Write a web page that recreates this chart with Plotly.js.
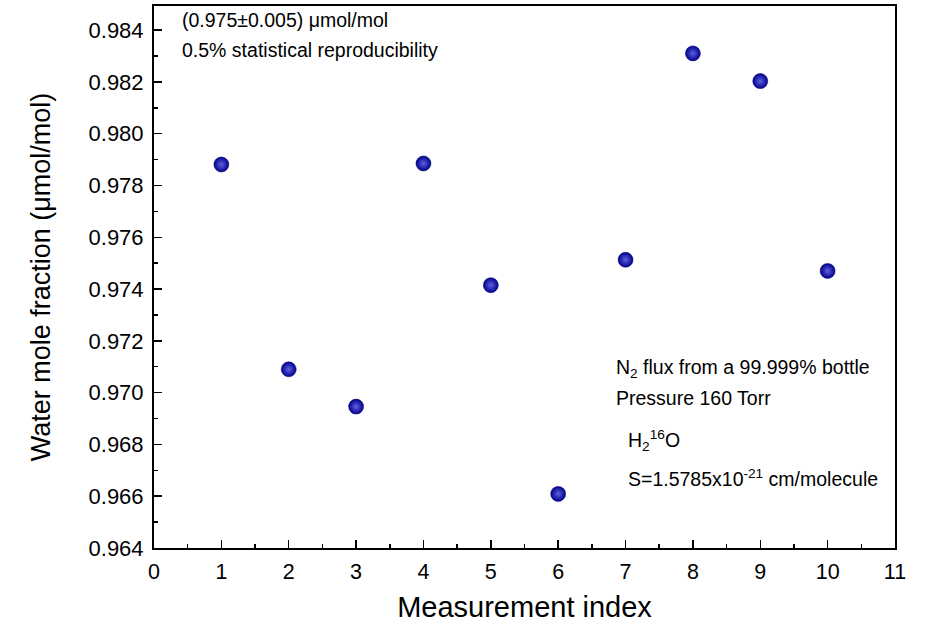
<!DOCTYPE html>
<html>
<head>
<meta charset="utf-8">
<script src="https://cdn.plot.ly/plotly-3.0.1.min.js"></script>
<style>html,body{margin:0;padding:0;background:#fff;}#chart{width:928px;height:624px;}</style>
</head>
<body>
<div id="chart"></div>
<script>
const measurementIndex = [1, 2, 3, 4, 5, 6, 7, 8, 9, 10];
const waterMoleFraction = [0.97881, 0.97090, 0.96946, 0.97885, 0.97415, 0.96609, 0.97513, 0.98310, 0.98203, 0.97470];
const yTickValues = [0.964, 0.966, 0.968, 0.970, 0.972, 0.974, 0.976, 0.978, 0.980, 0.982, 0.984];
const xTickValues = [0, 1, 2, 3, 4, 5, 6, 7, 8, 9, 10, 11];

const font = 'Liberation Sans, Arial, sans-serif';

const trace = {
  x: measurementIndex,
  y: waterMoleFraction,
  type: 'scatter',
  mode: 'markers',
  marker: {
    size: 15,
    color: '#00008c',
    gradient: {type: 'radial', color: '#6060e0'},
    line: {width: 0.5, color: '#000070'}
  },
  hoverinfo: 'x+y'
};

function note(text, x, y) {
  return {xref: 'paper', yref: 'paper', x: x, y: y, xanchor: 'left', yanchor: 'middle',
          showarrow: false, align: 'left', text: text, font: {size: 19.5, family: font, color: '#000'}};
}

const layout = {
  width: 928,
  height: 624,
  margin: {l: 154, r: 33, t: 6, b: 76},
  paper_bgcolor: '#fff',
  plot_bgcolor: '#fff',
  showlegend: false,
  font: {family: font, color: '#000'},
  xaxis: {
    range: [0, 11],
    tickvals: xTickValues,
    ticktext: xTickValues.map(String),
    ticks: 'inside',
    ticklen: 8,
    tickwidth: 1.5,
    tickcolor: '#000',
    ticklabelstandoff: 3,
    minor: {dtick: 0.5, tick0: 0, ticks: 'inside', ticklen: 4, tickwidth: 1.5, tickcolor: '#000'},
    showline: true,
    linecolor: '#000',
    linewidth: 2,
    mirror: true,
    showgrid: false,
    zeroline: false,
    tickfont: {size: 21.5, family: font},
    title: {text: 'Measurement index', font: {size: 29, family: font}, standoff: 14}
  },
  yaxis: {
    range: [0.964, 0.98493],
    tickvals: yTickValues,
    ticktext: yTickValues.map(v => v.toFixed(3)),
    ticks: 'inside',
    ticklen: 8,
    tickwidth: 1.5,
    tickcolor: '#000',
    ticklabelstandoff: 4,
    minor: {dtick: 0.001, tick0: 0.964, ticks: 'inside', ticklen: 4, tickwidth: 1.5, tickcolor: '#000'},
    showline: true,
    linecolor: '#000',
    linewidth: 2,
    mirror: true,
    showgrid: false,
    zeroline: false,
    tickfont: {size: 22, family: font},
    title: {text: 'Water mole fraction (μmol/mol)', font: {size: 27, family: font}, standoff: 30}
  },
  annotations: [
    note('(0.975±0.005) μmol/mol', 0.035, 0.974),
    note('0.5% statistical reproducibility', 0.035, 0.919),
    note('N<sub>2</sub> flux from a 99.999% bottle', 0.621, 0.332),
    note('Pressure 160 Torr', 0.621, 0.277),
    note('H<sub>2</sub><sup>16</sup>O', 0.637, 0.199),
    note('S=1.5785x10<sup>-21</sup> cm/molecule', 0.637, 0.129)
  ]
};

Plotly.newPlot('chart', [trace], layout, {displayModeBar: false, staticPlot: true});
</script>
</body>
</html>
